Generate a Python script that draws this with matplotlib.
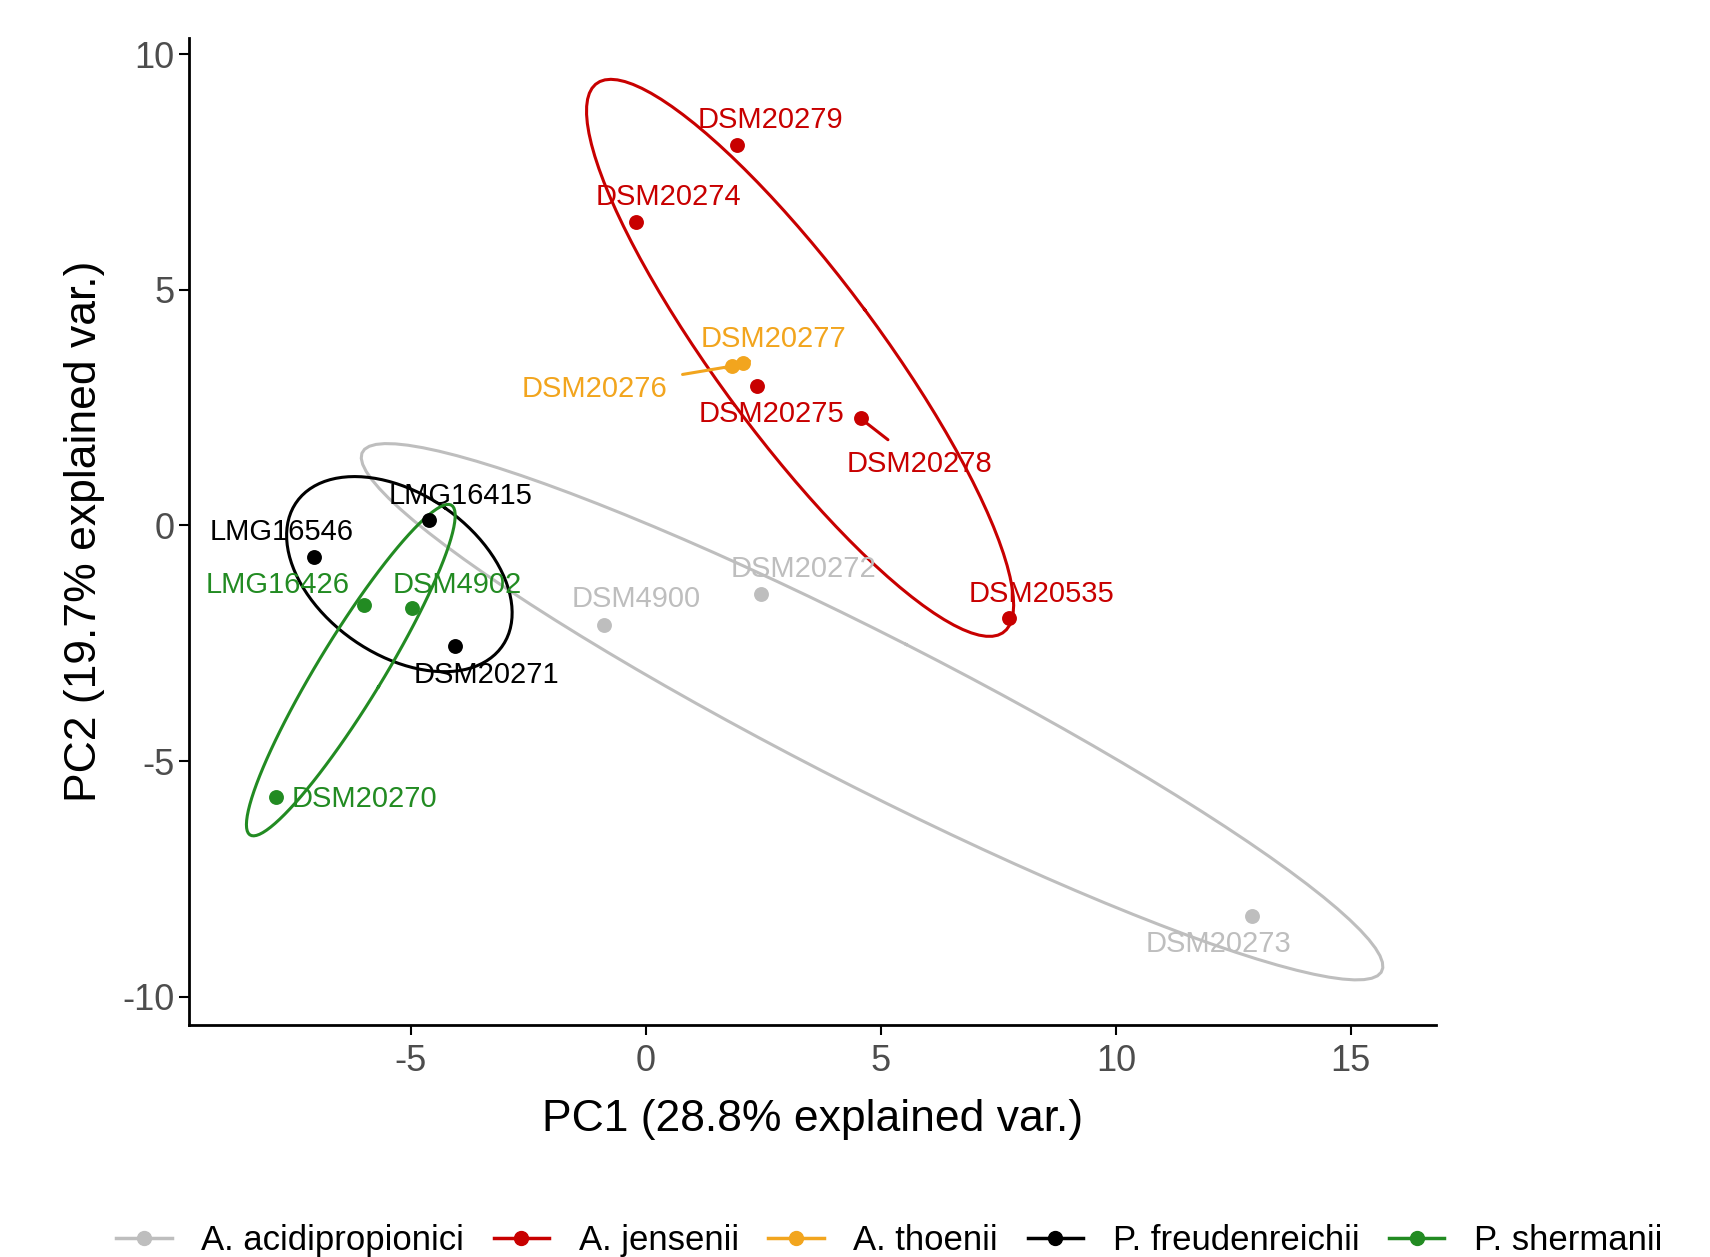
import numpy as np
import matplotlib.pyplot as plt
from matplotlib.lines import Line2D

plt.rcParams['font.family'] = ['Liberation Sans', 'DejaVu Sans']
plt.rcParams['axes.unicode_minus'] = False

# groups and colours
groups = ['A. acidipropionici', 'A. jensenii', 'A. thoenii', 'P. freudenreichii', 'P. shermanii']
colors = ['#BEBEBE', '#C80000', '#F2A51E', '#000000', '#228B22']

# PCA scores
strains = ['DSM4900', 'DSM20272', 'DSM20273',
           'DSM20279', 'DSM20274', 'DSM20275', 'DSM20278', 'DSM20535',
           'DSM20277', 'DSM20276',
           'LMG16415', 'LMG16546', 'DSM20271',
           'LMG16426', 'DSM4902', 'DSM20270']
strain_group = [0, 0, 0, 1, 1, 1, 1, 1, 2, 2, 3, 3, 3, 4, 4, 4]
pc1 = [-0.90, 2.44, 12.90, 1.95, -0.21, 2.37, 4.57, 7.73, 2.07, 1.83,
       -4.62, -7.05, -4.06, -5.99, -4.97, -7.87]
pc2 = [-2.11, -1.46, -8.29, 8.08, 6.44, 2.96, 2.27, -1.97, 3.45, 3.38,
       0.12, -0.67, -2.55, -1.69, -1.76, -5.76]

# where the (repelled) labels ended up
label_x = [-0.21, 3.36, 12.18, 2.65, 0.49, 2.67, 5.82, 8.42, 2.71, -1.09,
           -3.94, -7.75, -3.39, -7.84, -4.01, -5.99]
label_y = [-1.57, -0.93, -8.89, 8.61, 6.97, 2.36, 1.30, -1.46, 3.96, 2.89,
           0.63, -0.14, -3.17, -1.27, -1.27, -5.81]
with_segment = ['DSM20276', 'DSM20278']

pc1 = np.array(pc1)
pc2 = np.array(pc2)
strain_group = np.array(strain_group)

fig = plt.figure(figsize=(17.1, 12.57), dpi=100)
ax = fig.add_axes([0.1105, 0.1846, 0.7295, 0.7854])

# 68% normal ellipses, same as ggbiplot
theta = np.linspace(-np.pi, np.pi, 100)
circle = np.column_stack([np.cos(theta), np.sin(theta)])
ed = np.sqrt(-2 * np.log(1 - 0.68))
for g, col in enumerate(colors):
    xs = pc1[strain_group == g]
    ys = pc2[strain_group == g]
    sigma = np.cov(np.vstack([xs, ys]))
    vals, vecs = np.linalg.eigh(sigma)
    vals = np.clip(vals, 0, None)
    A = np.diag(np.sqrt(vals)) @ vecs.T
    ell = circle @ A * ed + np.array([xs.mean(), ys.mean()])
    ax.plot(ell[:, 0], ell[:, 1], color=col, lw=2.2, zorder=2)

for g, col in enumerate(colors):
    m = strain_group == g
    ax.scatter(pc1[m], pc2[m], s=115, color=col, zorder=3, linewidths=0)

for i, name in enumerate(strains):
    col = colors[strain_group[i]]
    if name in with_segment:
        ax.annotate(name, xy=(pc1[i], pc2[i]), xytext=(label_x[i], label_y[i]),
                    ha='center', va='center', fontsize=21, color=col, zorder=4,
                    arrowprops=dict(arrowstyle='-', color=col, lw=2.2,
                                    shrinkA=9, shrinkB=2))
    else:
        ax.text(label_x[i], label_y[i], name, ha='center', va='center',
                fontsize=21, color=col, zorder=4)

ax.set_xlim(-9.72, 16.82)
ax.set_ylim(-10.6, 10.35)
ax.set_xticks([-5, 0, 5, 10, 15])
ax.set_yticks([-10, -5, 0, 5, 10])
ax.spines['top'].set_visible(False)
ax.spines['right'].set_visible(False)
ax.spines['left'].set_linewidth(2)
ax.spines['bottom'].set_linewidth(2)
ax.tick_params(axis='both', length=7, width=1.5, labelsize=26, labelcolor='#4D4D4D')
ax.tick_params(axis='x', pad=7)
ax.set_xlabel('PC1 (28.8% explained var.)', fontsize=32, labelpad=14)
ax.set_ylabel('PC2 (19.7% explained var.)', fontsize=32, labelpad=12)

handles = [Line2D([0], [0], color=c, lw=2.5, marker='o', markersize=10) for c in colors]
fig.legend(handles, groups, loc='center', bbox_to_anchor=(0.52, 0.013), ncol=5,
           frameon=False, fontsize=25, handlelength=1.6, handletextpad=0.85,
           columnspacing=0.85)

fig.savefig('out.png', dpi=100)
